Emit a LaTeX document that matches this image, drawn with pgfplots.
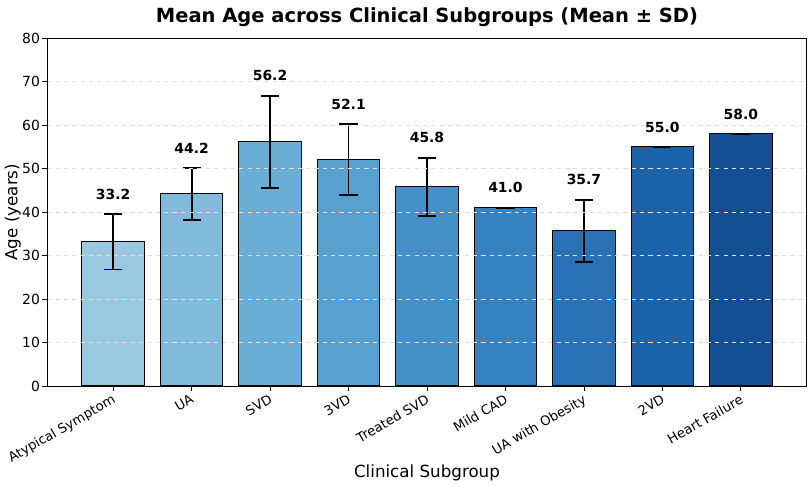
\documentclass[border={0pt 0pt 2pt 2pt}]{standalone}
\usepackage{pgfplots}
\pgfplotsset{compat=1.18}
\usepackage{pgfplotstable}
\usepackage{fontspec}
\setmainfont{DejaVu Sans}
\definecolor{c0}{HTML}{9AC8E0}
\definecolor{c1}{HTML}{82BADB}
\definecolor{c2}{HTML}{6AAED6}
\definecolor{c3}{HTML}{58A1CF}
\definecolor{c4}{HTML}{4590C7}
\definecolor{c5}{HTML}{3582BF}
\definecolor{c6}{HTML}{2970B4}
\definecolor{c7}{HTML}{1C62AB}
\definecolor{c8}{HTML}{154F93}
\pgfplotstableread{
x mean sd top lab
0 33.2 6.4 39.6 33.2
1 44.2 6.0 50.2 44.2
2 56.2 10.6 66.8 56.2
3 52.1 8.1 60.2 52.1
4 45.8 6.7 52.5 45.8
5 41.0 0.0 41.0 41.0
6 35.7 7.2 42.9 35.7
7 55.0 0.0 55.0 55.0
8 58.0 0.0 58.0 58.0
}\datatable
\pgfplotsset{
  eb/.style={
    error bars/y dir=both, error bars/y explicit,
    error bars/error bar style={line width=1.4pt, black},
    error bars/error mark options={rotate=90, mark size=6.5pt, line width=1.4pt, black}
  },
  barp/.style={fill=#1, draw=black, line width=0.7pt, eb}
}
\begin{document}
\begin{tikzpicture}
\begin{axis}[
  scale only axis,
  width=545.8pt, height=249.8pt,
  xmin=-0.84, xmax=8.84,
  ymin=0, ymax=80,
  ytick={0,10,...,80},
  xtick={0,...,8},
  xticklabels={Atypical Symptom,UA,SVD,3VD,Treated SVD,Mild CAD,UA with Obesity,2VD,Heart Failure},
  xticklabel style={rotate=30, anchor=north east, font=\fontsize{9.5}{11}\selectfont, inner sep=1pt, xshift=-1pt},
  yticklabel style={font=\fontsize{10}{12}\selectfont, inner xsep=1.5pt},
  /pgf/number format/assume math mode=true,
  tick align=outside,
  xtick pos=bottom, ytick pos=left,
  major tick length=3.5pt,
  tick style={black, line width=0.6pt},
  axis line style={line width=0.6pt},
  ymajorgrids,
  grid style={dashed, gray!25, line width=0.5pt},
  axis on top,
  xlabel={Clinical Subgroup},
  ylabel={Age (years)},
  xlabel style={font=\fontsize{12}{14}\selectfont, yshift=5pt},
  ylabel style={font=\fontsize{12}{14}\selectfont, yshift=-4pt},
  title={Mean Age across Clinical Subgroups (Mean ± SD)},
  title style={font=\bfseries\fontsize{14}{17}\selectfont, yshift=-1pt},
  ybar, bar width=0.8, bar shift=0pt,
]
\addplot[barp=c0] table[x=x, y=mean, y error=sd, restrict expr to domain={\thisrow{x}}{0:0}] {\datatable};
\addplot[barp=c1] table[x=x, y=mean, y error=sd, restrict expr to domain={\thisrow{x}}{1:1}] {\datatable};
\addplot[barp=c2] table[x=x, y=mean, y error=sd, restrict expr to domain={\thisrow{x}}{2:2}] {\datatable};
\addplot[barp=c3] table[x=x, y=mean, y error=sd, restrict expr to domain={\thisrow{x}}{3:3}] {\datatable};
\addplot[barp=c4] table[x=x, y=mean, y error=sd, restrict expr to domain={\thisrow{x}}{4:4}] {\datatable};
\addplot[barp=c5] table[x=x, y=mean, y error=sd, restrict expr to domain={\thisrow{x}}{5:5}] {\datatable};
\addplot[barp=c6] table[x=x, y=mean, y error=sd, restrict expr to domain={\thisrow{x}}{6:6}] {\datatable};
\addplot[barp=c7] table[x=x, y=mean, y error=sd, restrict expr to domain={\thisrow{x}}{7:7}] {\datatable};
\addplot[barp=c8] table[x=x, y=mean, y error=sd, restrict expr to domain={\thisrow{x}}{8:8}] {\datatable};
\addplot[draw=none, fill=none, only marks, mark=none,
  nodes near coords, point meta=explicit symbolic,
  nodes near coords style={font=\bfseries\fontsize{10}{12}\selectfont, anchor=south, yshift=7pt, text=black}]
  table[x=x, y=top, meta=lab] {\datatable};
\end{axis}
\end{tikzpicture}
\end{document}
